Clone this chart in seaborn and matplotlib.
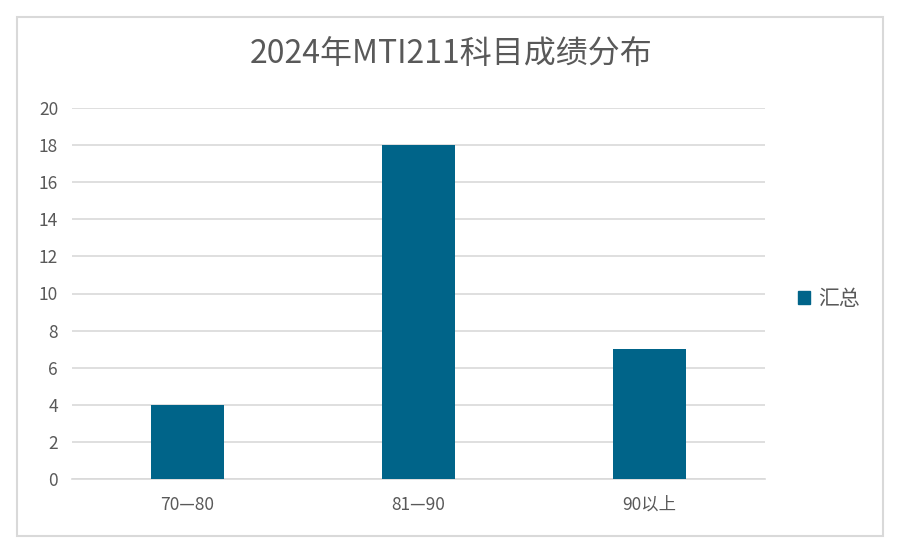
import matplotlib
matplotlib.use("Agg")
import matplotlib.pyplot as plt
import matplotlib.patches as mpatches
import seaborn as sns
import pandas as pd

# Data
categories = ["70—80", "81—90", "90以上"]
counts = [4, 18, 7]
series_name = "汇总"
title = "2024年MTI211科目成绩分布"

df = pd.DataFrame({"range": categories, "count": counts})

sns.set_style("white")
plt.rcParams["font.family"] = ["Noto Sans CJK SC", "DejaVu Sans"]

text_color = "#595959"
bar_color = "#006489"
grid_color = "#d9d9d9"

fig = plt.figure(figsize=(9.02, 5.52), dpi=100)
ax = fig.add_axes([72 / 902, 1 - 479 / 552, (765 - 72) / 902, (479 - 108) / 552])

sns.barplot(data=df, x="range", y="count", color=bar_color, width=0.315,
            saturation=1, linewidth=0, ax=ax, zorder=3)

ax.set_ylim(0, 20)
ax.set_yticks(range(0, 21, 2))
ax.set_xlim(-0.5, 2.5)
ax.grid(axis="y", color=grid_color, linewidth=1.2, zorder=0)
ax.set_axisbelow(True)
for side in ["left", "right", "top"]:
    ax.spines[side].set_visible(False)
ax.spines["bottom"].set_color(grid_color)
ax.spines["bottom"].set_linewidth(1.2)
ax.tick_params(axis="both", length=0, labelsize=12.5, colors=text_color)
ax.tick_params(axis="y", pad=10)
ax.tick_params(axis="x", pad=12)
ax.set_xlabel("")
ax.set_ylabel("")

fig.text(0.5, 1 - 54 / 552, title, ha="center", va="center",
         fontsize=23, color=text_color)

handle = mpatches.Patch(color=bar_color, label=series_name)
fig.legend(handles=[handle], loc="center left", bbox_to_anchor=(779 / 902, 1 - 299 / 552),
           frameon=False, fontsize=15, labelcolor=text_color,
           handlelength=0.6, handleheight=0.6, handletextpad=0.4)

# chart border
fig.patches.append(mpatches.Rectangle((17 / 902, 1 - 536 / 552), (883 - 17) / 902, (536 - 17) / 552,
                                      transform=fig.transFigure, fill=False,
                                      edgecolor=grid_color, linewidth=1.5))

plt.savefig("out.png", dpi=100)
